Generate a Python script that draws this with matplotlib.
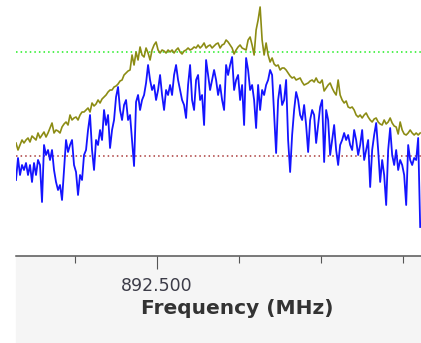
import matplotlib
matplotlib.use("Agg")
import matplotlib.pyplot as plt
from matplotlib.patches import Rectangle
import numpy as np

# span of the sweep, MHz
f_start = 892.328
f_stop = 892.821

# level of each bin, dB below reference (bigger = lower on screen)
live_trace = [
    180, 158, 175, 165, 170, 163, 175, 165, 182, 163,
    175, 160, 165, 202, 145, 155, 150, 160, 150, 170,
    182, 190, 185, 200, 170, 140, 152, 145, 140, 165,
    172, 195, 175, 180, 155, 150, 130, 115, 150, 170,
    140, 145, 130, 140, 110, 125, 115, 148, 130, 120,
    97, 87, 110, 120, 105, 100, 120, 115, 140, 166,
    102, 95, 110, 100, 95, 83, 65, 80, 90, 85,
    100, 90, 75, 95, 110, 90, 95, 85, 95, 75,
    65, 80, 90, 100, 105, 118, 85, 65, 100, 110,
    80, 75, 100, 95, 125, 60, 75, 90, 80, 70,
    80, 95, 85, 100, 110, 65, 75, 65, 57, 90,
    80, 75, 100, 85, 125, 58, 70, 90, 85, 100,
    128, 85, 110, 90, 95, 85, 80, 70, 75, 115,
    153, 100, 85, 105, 100, 80, 140, 172, 135, 110,
    92, 100, 115, 120, 105, 125, 152, 120, 110, 115,
    143, 125, 107, 100, 162, 110, 120, 155, 140, 125,
    150, 165, 145, 140, 133, 140, 135, 145, 150, 130,
    140, 155, 145, 130, 160, 150, 140, 187, 150, 135,
    123, 150, 182, 160, 175, 205, 150, 128, 155, 165,
    150, 170, 160, 165, 175, 205, 145, 160, 165, 158,
    160, 138, 227,
]

max_hold = [
    143, 150, 145, 140, 143, 140, 138, 142, 136, 138,
    140, 133, 138, 135, 132, 137, 133, 128, 123, 133,
    130, 131, 133, 127, 124, 122, 125, 115, 120, 118,
    117, 120, 115, 112, 112, 110, 108, 112, 103, 106,
    104, 100, 103, 99, 97, 95, 92, 90, 90, 87,
    86, 84, 81, 80, 75, 73, 71, 70, 55, 65,
    52, 60, 47, 55, 57, 48, 53, 60, 50, 45,
    42, 50, 53, 50, 51, 53, 50, 52, 50, 53,
    50, 48, 52, 54, 51, 50, 48, 50, 49, 47,
    48, 45, 48, 46, 43, 48, 46, 45, 48, 46,
    44, 43, 48, 45, 44, 40, 42, 45, 48, 54,
    50, 47, 45, 48, 49, 50, 40, 37, 45, 55,
    30, 20, 7, 40, 55, 43, 55, 62, 58, 64,
    66, 65, 70, 68, 68, 70, 73, 76, 78, 77,
    80, 79, 78, 82, 85, 84, 83, 81, 80, 82,
    78, 82, 83, 80, 91, 88, 85, 83, 88, 92,
    95, 80, 95, 100, 103, 101, 107, 108, 107, 110,
    115, 117, 115, 118, 115, 113, 117, 120, 122, 119,
    118, 122, 124, 125, 120, 124, 122, 118, 123, 126,
    127, 134, 122, 130, 134, 135, 133, 130, 133, 135,
    133, 135, 133,
]

upper_limit = 52
lower_limit = 156

major_ticks = [892.5]
minor_ticks = [892.4, 892.6, 892.7, 892.8]

freqs = np.linspace(f_start, f_stop, len(live_trace))

fig = plt.figure(figsize=(4.21, 3.43), dpi=100, facecolor="white")
fig.patches.append(Rectangle((16/421, 1/343), 405/421, 86/343,
                             transform=fig.transFigure, color="#f5f5f5", zorder=-5))

ax = fig.add_axes([16/421, 87/343, 405/421, 256/343], facecolor="white")

ax.axhline(upper_limit, color="#22ee22", lw=1.1, ls=(0, (1, 2)), zorder=1)
ax.axhline(lower_limit, color="#aa3b3b", lw=1.1, ls=(0, (1, 2)), zorder=1)
ax.plot(freqs, max_hold, color="#8c8c14", lw=1.2, zorder=2)
ax.plot(freqs, live_trace, color="#1414ff", lw=1.3, zorder=3)

ax.set_xlim(892.328, 892.822)
ax.set_ylim(256, 0)

for s in ["top", "left", "right"]:
    ax.spines[s].set_visible(False)
ax.spines["bottom"].set_color("#555555")
ax.spines["bottom"].set_linewidth(1.1)

ax.set_yticks([])
ax.set_xticks(major_ticks)
ax.set_xticklabels(["%.3f" % t for t in major_ticks])
ax.set_xticks(minor_ticks, minor=True)
ax.tick_params(axis="x", which="major", direction="out", length=9.6, width=0.8,
               color="#555555", labelsize=12.5, labelcolor="#3c3c48", pad=5.5)
ax.tick_params(axis="x", which="minor", direction="out", length=5, width=0.8,
               color="#555555")

ax.set_xlabel("Frequency (MHz)", fontsize=14.5, fontweight="bold", color="#333333")
ax.xaxis.set_label_coords((237 - 16) / 405, -43 / 256)

fig.savefig("out.png", dpi=100)
